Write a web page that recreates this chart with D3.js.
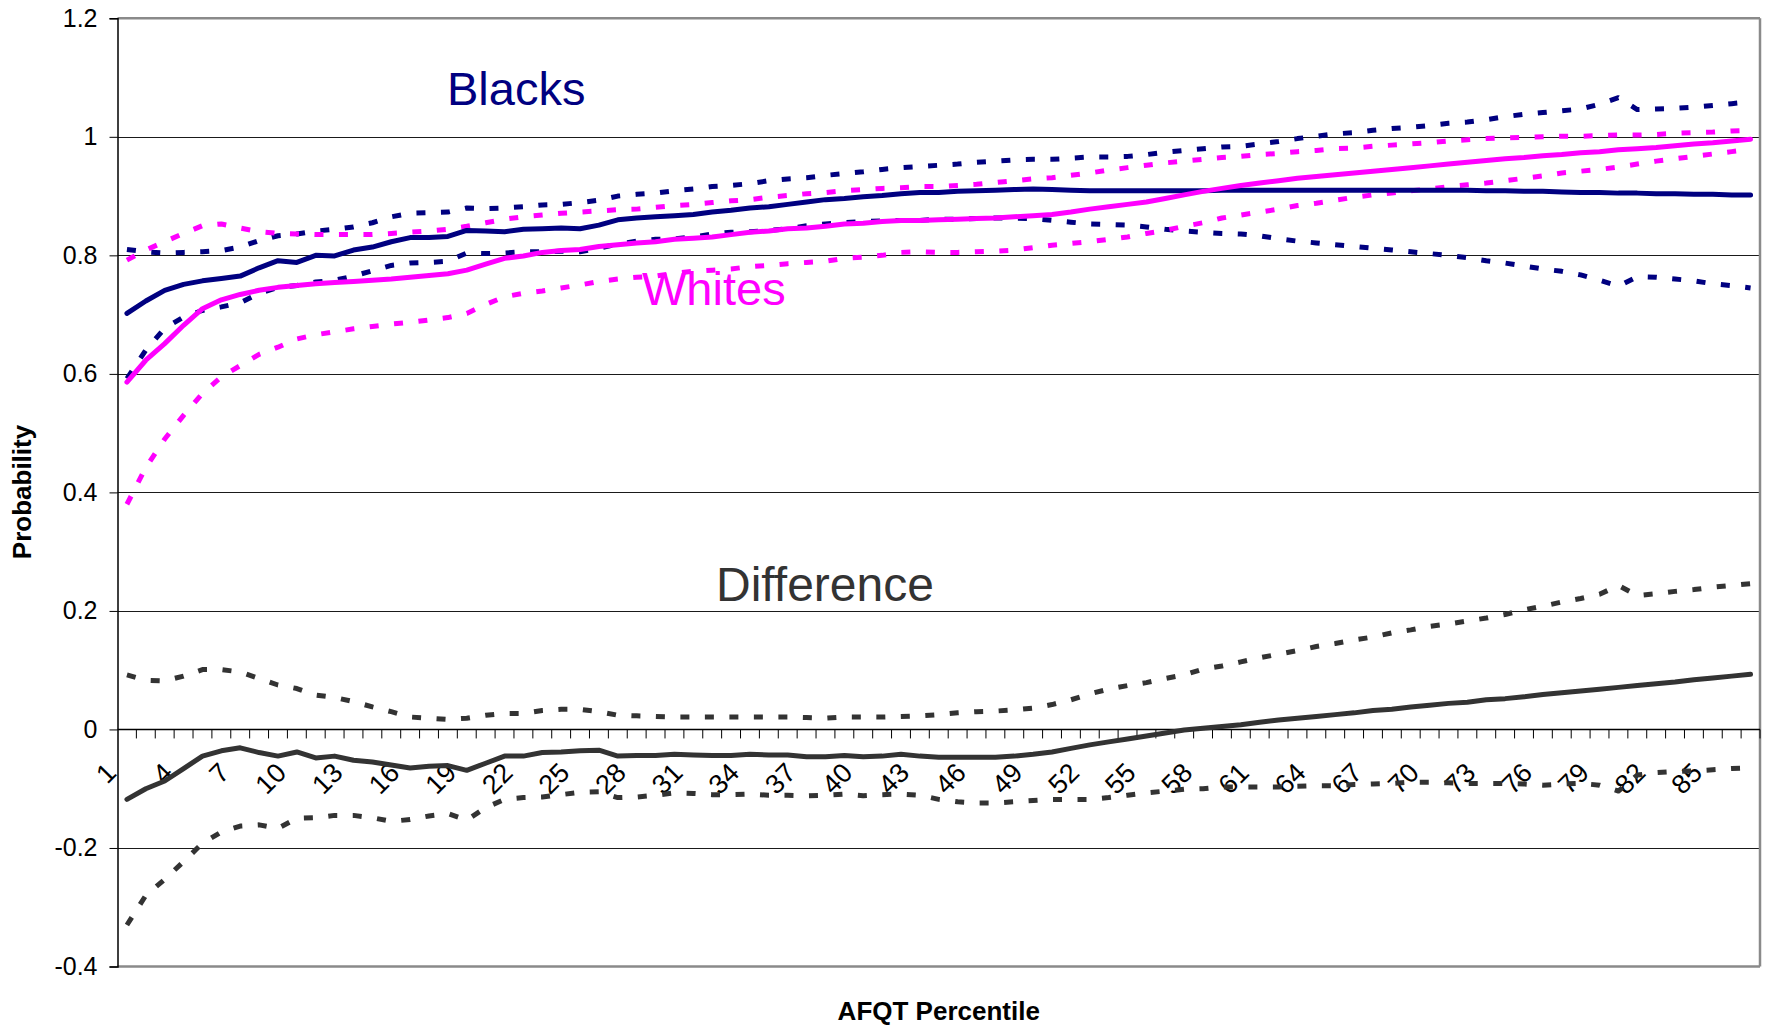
<!DOCTYPE html>
<html>
<head>
<meta charset="utf-8">
<script src="https://cdn.jsdelivr.net/npm/d3@7"></script>
<style>
  html, body { margin: 0; padding: 0; background: #fff; }
  svg { display: block; }
  text { font-family: "Liberation Sans", Arial, sans-serif; }
</style>
</head>
<body>
<svg id="chart" width="1767" height="1027"></svg>
<script>
// ---------------- DATA ----------------
const categories = [1,2,3,4,5,6,7,8,9,10,11,12,13,14,15,16,17,18,19,20,21,22,23,24,25,26,27,28,29,30,
  31,32,33,34,35,36,37,38,39,40,41,42,43,44,45,46,47,48,49,50,51,52,53,54,55,56,57,58,59,60,
  61,62,63,64,65,66,67,68,69,70,71,72,73,74,75,76,77,78,79,80,81,82,83,84,85,86,87];

const xTickLabels = [1,4,7,10,13,16,19,22,25,28,31,34,37,40,43,46,49,52,55,58,61,64,67,70,73,76,79,82,85];
const yTickValues = [-0.4,-0.2,0,0.2,0.4,0.6,0.8,1,1.2];
const yTickLabels = ["-0.4","-0.2","0","0.2","0.4","0.6","0.8","1","1.2"];

const blacksMean = [0.702,0.723,0.741,0.751,0.757,0.761,0.765,0.779,0.791,0.788,
  0.800,0.799,0.809,0.814,0.823,0.830,0.830,0.832,0.842,0.841,
  0.840,0.844,0.845,0.846,0.845,0.851,0.860,0.863,0.865,0.867,
  0.869,0.873,0.876,0.880,0.882,0.886,0.890,0.894,0.896,0.899,
  0.901,0.904,0.906,0.906,0.908,0.909,0.910,0.911,0.912,0.911,
  0.910,0.909,0.909,0.909,0.909,0.909,0.909,0.909,0.910,0.910,
  0.910,0.910,0.910,0.910,0.910,0.910,0.910,0.910,0.910,0.910,
  0.910,0.910,0.909,0.909,0.908,0.908,0.907,0.906,0.906,0.905,
  0.905,0.904,0.904,0.903,0.903,0.902,0.902];

const blacksUpper = [0.810,0.806,0.804,0.805,0.806,0.808,0.814,0.825,0.833,0.836,
  0.841,0.844,0.848,0.855,0.865,0.871,0.872,0.873,0.880,0.879,
  0.880,0.882,0.885,0.886,0.889,0.893,0.900,0.903,0.905,0.909,
  0.912,0.916,0.918,0.921,0.926,0.929,0.931,0.935,0.938,0.941,
  0.945,0.948,0.950,0.952,0.954,0.957,0.959,0.961,0.962,0.962,
  0.964,0.966,0.966,0.967,0.970,0.974,0.977,0.980,0.983,0.984,
  0.988,0.992,0.997,1.001,1.005,1.007,1.011,1.014,1.016,1.019,
  1.023,1.025,1.029,1.034,1.038,1.041,1.044,1.047,1.055,1.066,
  1.046,1.047,1.048,1.050,1.053,1.056,1.059];

const blacksLower = [0.592,0.640,0.677,0.696,0.707,0.713,0.720,0.736,0.746,0.749,
  0.755,0.758,0.765,0.774,0.783,0.787,0.788,0.790,0.804,0.803,
  0.804,0.806,0.806,0.807,0.806,0.812,0.819,0.824,0.827,0.828,
  0.831,0.836,0.839,0.840,0.842,0.845,0.850,0.853,0.855,0.857,
  0.858,0.859,0.859,0.861,0.861,0.862,0.863,0.863,0.862,0.859,
  0.856,0.853,0.852,0.851,0.848,0.844,0.841,0.839,0.837,0.836,
  0.833,0.828,0.824,0.821,0.818,0.815,0.812,0.809,0.806,0.803,
  0.800,0.796,0.791,0.787,0.782,0.777,0.773,0.767,0.758,0.748,
  0.764,0.763,0.760,0.757,0.752,0.749,0.745];

const whitesMean = [0.586,0.623,0.651,0.682,0.710,0.725,0.734,0.741,0.746,0.749,
  0.752,0.754,0.756,0.758,0.760,0.763,0.766,0.769,0.775,0.785,
  0.795,0.799,0.805,0.808,0.810,0.815,0.818,0.821,0.823,0.827,
  0.829,0.831,0.835,0.839,0.841,0.845,0.846,0.849,0.853,0.854,
  0.857,0.859,0.859,0.860,0.861,0.862,0.863,0.865,0.867,0.869,
  0.873,0.878,0.882,0.886,0.890,0.896,0.902,0.908,0.913,0.918,
  0.922,0.926,0.930,0.933,0.936,0.939,0.942,0.945,0.948,0.951,
  0.954,0.957,0.960,0.963,0.965,0.968,0.970,0.973,0.975,0.978,
  0.980,0.982,0.985,0.988,0.990,0.993,0.996];

const whitesUpper = [0.792,0.809,0.823,0.837,0.850,0.853,0.846,0.840,0.837,0.836,
  0.835,0.835,0.835,0.835,0.837,0.839,0.841,0.844,0.849,0.855,
  0.861,0.865,0.868,0.871,0.873,0.875,0.877,0.878,0.881,0.884,
  0.886,0.889,0.892,0.894,0.898,0.901,0.904,0.906,0.909,0.911,
  0.913,0.914,0.916,0.916,0.918,0.920,0.923,0.926,0.929,0.931,
  0.935,0.939,0.944,0.948,0.952,0.956,0.959,0.962,0.965,0.967,
  0.970,0.972,0.975,0.977,0.980,0.981,0.984,0.986,0.988,0.990,
  0.993,0.995,0.997,0.998,0.999,1.000,1.001,1.001,1.002,1.003,
  1.003,1.004,1.006,1.007,1.008,1.010,1.011];

const whitesLower = [0.380,0.442,0.490,0.530,0.567,0.595,0.614,0.633,0.645,0.659,
  0.666,0.671,0.676,0.680,0.684,0.687,0.691,0.695,0.702,0.717,
  0.730,0.736,0.740,0.745,0.750,0.756,0.760,0.763,0.765,0.770,
  0.773,0.775,0.777,0.781,0.783,0.786,0.788,0.790,0.795,0.797,
  0.800,0.805,0.806,0.805,0.805,0.806,0.807,0.809,0.813,0.817,
  0.820,0.823,0.827,0.831,0.837,0.842,0.849,0.855,0.863,0.868,
  0.873,0.878,0.884,0.888,0.893,0.898,0.902,0.905,0.909,0.912,
  0.916,0.919,0.922,0.926,0.930,0.934,0.939,0.942,0.945,0.949,
  0.954,0.959,0.963,0.967,0.971,0.975,0.979];

const diffMean = [-0.118,-0.100,-0.087,-0.066,-0.045,-0.036,-0.031,-0.039,-0.045,-0.038,
  -0.048,-0.045,-0.052,-0.055,-0.060,-0.065,-0.062,-0.061,-0.069,-0.057,
  -0.045,-0.045,-0.039,-0.038,-0.036,-0.035,-0.045,-0.044,-0.044,-0.042,
  -0.043,-0.044,-0.044,-0.042,-0.043,-0.043,-0.046,-0.046,-0.044,-0.046,
  -0.045,-0.042,-0.045,-0.047,-0.047,-0.047,-0.047,-0.045,-0.042,-0.038,
  -0.032,-0.026,-0.021,-0.016,-0.011,-0.006,-0.001,0.002,0.005,0.008,
  0.012,0.016,0.019,0.022,0.025,0.028,0.032,0.034,0.038,0.041,
  0.044,0.046,0.050,0.052,0.055,0.059,0.062,0.065,0.068,0.071,
  0.074,0.077,0.080,0.084,0.087,0.090,0.093];

const diffUpper = [0.092,0.083,0.082,0.090,0.101,0.101,0.097,0.086,0.075,0.069,
  0.058,0.054,0.047,0.038,0.030,0.021,0.019,0.017,0.019,0.024,
  0.027,0.027,0.032,0.034,0.034,0.030,0.024,0.023,0.022,0.021,
  0.021,0.021,0.021,0.021,0.021,0.021,0.020,0.019,0.021,0.021,
  0.021,0.022,0.023,0.025,0.028,0.030,0.031,0.033,0.036,0.042,
  0.050,0.060,0.068,0.074,0.079,0.086,0.092,0.102,0.107,0.114,
  0.121,0.127,0.133,0.140,0.145,0.151,0.156,0.163,0.168,0.174,
  0.178,0.183,0.188,0.194,0.202,0.208,0.215,0.221,0.228,0.243,
  0.226,0.229,0.233,0.236,0.240,0.243,0.246];

const diffLower = [-0.330,-0.280,-0.253,-0.223,-0.192,-0.173,-0.163,-0.161,-0.167,-0.150,
  -0.149,-0.145,-0.145,-0.149,-0.155,-0.152,-0.146,-0.142,-0.153,-0.132,
  -0.118,-0.115,-0.114,-0.110,-0.106,-0.105,-0.115,-0.114,-0.111,-0.107,
  -0.108,-0.110,-0.110,-0.109,-0.111,-0.111,-0.112,-0.111,-0.109,-0.112,
  -0.110,-0.109,-0.111,-0.118,-0.122,-0.124,-0.124,-0.122,-0.120,-0.118,
  -0.118,-0.118,-0.115,-0.111,-0.107,-0.104,-0.101,-0.100,-0.097,-0.097,
  -0.097,-0.097,-0.096,-0.095,-0.095,-0.093,-0.092,-0.091,-0.089,-0.089,
  -0.090,-0.091,-0.091,-0.091,-0.092,-0.094,-0.092,-0.091,-0.094,-0.104,
  -0.077,-0.073,-0.071,-0.070,-0.068,-0.066,-0.065];

// series table built from the arrays above
const series = [
  { values: blacksUpper, color: "#000080", dashed: true },
  { values: blacksLower, color: "#000080", dashed: true },
  { values: whitesUpper, color: "#FF00FF", dashed: true },
  { values: whitesLower, color: "#FF00FF", dashed: true },
  { values: diffUpper,   color: "#333333", dashed: true },
  { values: diffLower,   color: "#333333", dashed: true },
  { values: blacksMean,  color: "#000080", dashed: false },
  { values: whitesMean,  color: "#FF00FF", dashed: false },
  { values: diffMean,    color: "#333333", dashed: false }
];

// ---------------- LAYOUT ----------------
const plotLeft = 117.5, plotRight = 1760, plotTop = 18.3, plotBottom = 966.5;
const svg = d3.select("#chart");

const x = d3.scaleBand().domain(categories).range([plotLeft, plotRight]).padding(0);
const bw = x.bandwidth();
const y = d3.scaleLinear().domain([-0.4, 1.2]).range([plotBottom, plotTop]);

// gridlines
svg.append("g").selectAll("line")
  .data(yTickValues.filter(v => v !== -0.4 && v !== 1.2 && v !== 0))
  .join("line")
  .attr("x1", plotLeft).attr("x2", plotRight)
  .attr("y1", d => Math.round(y(d)) + 0.5).attr("y2", d => Math.round(y(d)) + 0.5)
  .attr("stroke", "#1a1a1a").attr("stroke-width", 1);

// plot border (top, right, bottom) gray
const border = svg.append("g").attr("fill", "none").attr("stroke", "#8a8a8a").attr("stroke-width", 2.5);
border.append("line").attr("x1", plotLeft).attr("x2", plotRight).attr("y1", y(1.2)).attr("y2", y(1.2));
border.append("line").attr("x1", plotRight).attr("x2", plotRight).attr("y1", y(1.2)).attr("y2", y(-0.4));
border.append("line").attr("x1", plotLeft).attr("x2", plotRight).attr("y1", y(-0.4)).attr("y2", y(-0.4));

// y axis
const yAxis = d3.axisLeft(y)
  .tickValues(yTickValues)
  .tickSize(8)
  .tickPadding(12)
  .tickFormat((d, i) => yTickLabels[i]);
const gy = svg.append("g").attr("transform", `translate(${plotLeft},0)`).call(yAxis);
gy.select(".domain").attr("stroke", "#000").attr("stroke-width", 1.5);
gy.selectAll(".tick line").attr("stroke", "#000");
gy.selectAll(".tick text")
  .attr("font-size", 25)
  .attr("fill", "#000")
  .attr("font-family", "'Liberation Sans', Arial, sans-serif");

// x axis line at y=0
const y0 = y(0);
svg.append("line").attr("x1", plotLeft).attr("x2", plotRight)
  .attr("y1", y0).attr("y2", y0).attr("stroke", "#000").attr("stroke-width", 1.5);

// x tick marks between categories
svg.append("g").selectAll("line")
  .data(categories)
  .join("line")
  .attr("x1", d => x(d) + bw).attr("x2", d => x(d) + bw)
  .attr("y1", y0).attr("y2", y0 + 9)
  .attr("stroke", "#000").attr("stroke-width", 1);

// x tick labels rotated
svg.append("g").selectAll("text")
  .data(xTickLabels)
  .join("text")
  .attr("transform", d => `translate(${x(d) + bw / 2 - 9},${y0 + 45}) rotate(-45)`)
  .attr("text-anchor", "end")
  .attr("font-size", 27)
  .attr("fill", "#000")
  .text(d => d);

// lines
const line = d3.line()
  .x((d, i) => x(categories[i]) + bw / 2)
  .y(d => y(d));

svg.append("g").selectAll("path")
  .data(series)
  .join("path")
  .attr("d", d => line(d.values))
  .attr("fill", "none")
  .attr("stroke", d => d.color)
  .attr("stroke-width", 5)
  .attr("stroke-linejoin", "round")
  .attr("stroke-linecap", d => d.dashed ? "butt" : "round")
  .attr("stroke-dasharray", d => d.dashed ? "9,15.5" : null);

// annotations
svg.append("text").attr("x", 447).attr("y", 105).attr("font-size", 47)
  .attr("fill", "#000080").text("Blacks");
svg.append("text").attr("x", 642).attr("y", 305).attr("font-size", 47)
  .attr("fill", "#FF00FF").text("Whites");
svg.append("text").attr("x", 716).attr("y", 601).attr("font-size", 48)
  .attr("fill", "#333333").text("Difference");

// axis titles
svg.append("text")
  .attr("transform", "translate(31,492) rotate(-90)")
  .attr("text-anchor", "middle")
  .attr("font-size", 26).attr("font-weight", "bold").attr("fill", "#000")
  .text("Probability");
svg.append("text")
  .attr("x", (plotLeft + plotRight) / 2).attr("y", 1020)
  .attr("text-anchor", "middle")
  .attr("font-size", 26).attr("font-weight", "bold").attr("fill", "#000")
  .text("AFQT Percentile");
</script>
</body>
</html>
